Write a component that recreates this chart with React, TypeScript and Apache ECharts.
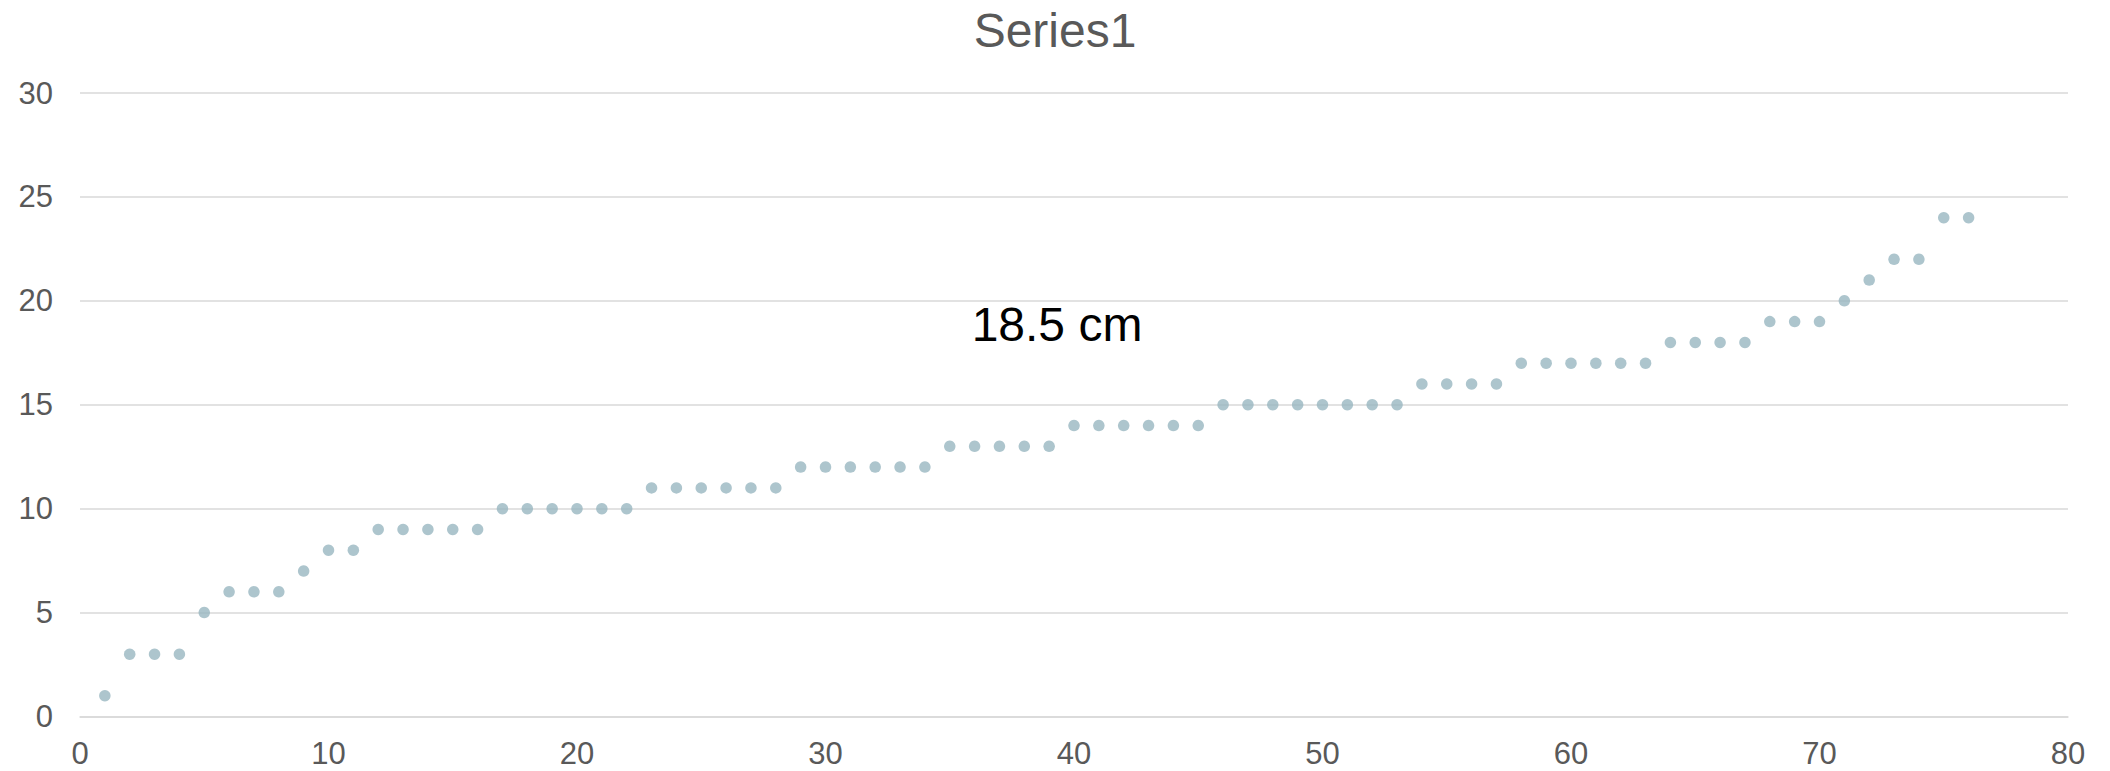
import React, { useEffect, useRef } from "react";
import * as echarts from "echarts";

const xValues = [
  1, 2, 3, 4, 5, 6, 7, 8, 9, 10, 11, 12, 13, 14, 15, 16, 17, 18, 19, 20,
  21, 22, 23, 24, 25, 26, 27, 28, 29, 30, 31, 32, 33, 34, 35, 36, 37, 38, 39, 40,
  41, 42, 43, 44, 45, 46, 47, 48, 49, 50, 51, 52, 53, 54, 55, 56, 57, 58, 59, 60,
  61, 62, 63, 64, 65, 66, 67, 68, 69, 70, 71, 72, 73, 74, 75, 76,
];
const yValues = [
  1, 3, 3, 3, 5, 6, 6, 6, 7, 8, 8, 9, 9, 9, 9, 9, 10, 10, 10, 10,
  10, 10, 11, 11, 11, 11, 11, 11, 12, 12, 12, 12, 12, 12, 13, 13, 13, 13, 13, 14,
  14, 14, 14, 14, 14, 15, 15, 15, 15, 15, 15, 15, 15, 16, 16, 16, 16, 17, 17, 17,
  17, 17, 17, 18, 18, 18, 18, 19, 19, 19, 20, 21, 22, 22, 24, 24,
];
const titleText = "Series1";
const annotationText = "18.5 cm";

export default function App() {
  const ref = useRef<HTMLDivElement>(null);
  useEffect(() => {
    if (!ref.current) return;
    const chart = echarts.init(ref.current, undefined, { renderer: "svg" });
    const font = "'Liberation Sans', Arial, sans-serif";
    chart.setOption({
      animation: false,
      backgroundColor: "#ffffff",
      title: {
        text: titleText,
        left: "center",
        top: 6,
        padding: 0,
        textStyle: { fontSize: 48, fontWeight: "normal", color: "#595959", fontFamily: font },
      },
      grid: { left: 80, right: 42, top: 93, bottom: 54.5, containLabel: false },
      xAxis: {
        type: "value",
        min: 0,
        max: 80,
        interval: 10,
        axisLine: { show: true, lineStyle: { color: "#d9d9d9", width: 1.5 } },
        axisTick: { show: false },
        splitLine: { show: false },
        axisLabel: { fontSize: 31, color: "#595959", fontFamily: font, margin: 21 },
      },
      yAxis: {
        type: "value",
        min: 0,
        max: 30,
        interval: 5,
        axisLine: { show: false },
        axisTick: { show: false },
        splitLine: { show: true, lineStyle: { color: "#d9d9d9", width: 1.5 } },
        axisLabel: { fontSize: 31, color: "#595959", fontFamily: font, margin: 27 },
      },
      graphic: [
        {
          type: "text",
          x: 1057,
          y: 324,
          style: {
            text: annotationText,
            fontSize: 48,
            fontFamily: font,
            fill: "#000000",
            align: "center",
            verticalAlign: "middle",
          },
        },
      ],
      series: [
        {
          type: "scatter",
          symbol: "circle",
          symbolSize: 11.5,
          itemStyle: { color: "#99b6c1" },
          data: xValues.map((x, i) => [x, yValues[i]]),
        },
      ],
    });
    return () => chart.dispose();
  }, []);
  return (
    <div
      ref={ref}
      style={{ position: "fixed", left: 0, top: 0, width: 2110, height: 771 }}
    />
  );
}
